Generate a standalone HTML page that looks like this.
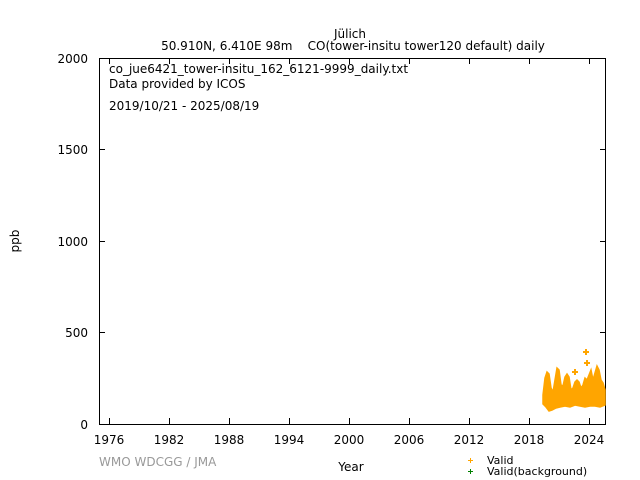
<!DOCTYPE html>
<html><head><style>body{margin:0;background:#fff}svg{display:block}</style></head><body>
<svg width="640" height="480" xmlns="http://www.w3.org/2000/svg" font-family="DejaVu Sans, sans-serif" font-size="12">
<rect width="640" height="480" fill="#fff"/>
<text x="350" y="38" text-anchor="middle">Jülich</text>
<text x="353" y="50" text-anchor="middle" xml:space="preserve">50.910N, 6.410E 98m    CO(tower-insitu tower120 default) daily</text>
<rect x="99.5" y="58.5" width="506" height="366" fill="none" stroke="#000"/>
<g stroke="#000">
<path d="M99 424.5h6M99 332.5h6M99 241.5h6M99 149.5h6M99 58.5h6M606 424.5h-6M606 332.5h-6M606 241.5h-6M606 149.5h-6M606 58.5h-6"/>
<path d="M109.5 424v-6M169.5 424v-6M229.5 424v-6M289.5 424v-6M349.5 424v-6M409.5 424v-6M469.5 424v-6M529.5 424v-6M589.5 424v-6M109.5 58v6M169.5 58v6M229.5 58v6M289.5 58v6M349.5 58v6M409.5 58v6M469.5 58v6M529.5 58v6M589.5 58v6"/>
</g>
<g text-anchor="end"><text x="88" y="429">0</text><text x="88" y="337">500</text><text x="88" y="246">1000</text><text x="88" y="154">1500</text><text x="88" y="63">2000</text></g>
<g text-anchor="middle"><text x="109" y="444">1976</text><text x="169" y="444">1982</text><text x="229" y="444">1988</text><text x="289" y="444">1994</text><text x="349" y="444">2000</text><text x="409" y="444">2006</text><text x="469" y="444">2012</text><text x="529" y="444">2018</text><text x="589" y="444">2024</text></g>
<text x="351" y="471" text-anchor="middle">Year</text>
<text x="19" y="241" text-anchor="middle" transform="rotate(-90 19 241)">ppb</text>
<text x="109" y="73">co_jue6421_tower-insitu_162_6121-9999_daily.txt</text>
<text x="109" y="88">Data provided by ICOS</text>
<text x="109" y="110">2019/10/21 - 2025/08/19</text>
<text x="99" y="466" fill="#999">WMO WDCGG / JMA</text>
<path fill="#ffa500" stroke="#ffa500" stroke-width="1.5" d="M543 395L545 378L547 372L549 374L551 388L553 392L555 380L557 368L559 370L561 385L563 386L565 377L567 374L569 377L571 390L573 388L575 382L577 380L579 382L581 388L583 385L585 378L587 380L589 375L591 370L593 380L595 373L597 366L599 370L601 380L603 383L605 390L605 405L600 407L595 406L590 406L585 407L580 406L575 405L570 407L565 406L560 407L556 408L552 410L549 411L546 407L543 404Z"/>
<g stroke="#ffa500" stroke-width="2"><path d="M583 352h6M586 349v6M584 363h6M587 360v6M572 372h6M575 369v6"/></g>
<g stroke="#ffa500" stroke-width="1"><path d="M468 460.5h5M470.5 458v5"/></g>
<g stroke="#008000" stroke-width="1"><path d="M468 471.5h5M470.5 469v5"/></g>
<text x="487" y="464" font-size="11">Valid</text>
<text x="487" y="475" font-size="11">Valid(background)</text>
</svg>
</body></html>
